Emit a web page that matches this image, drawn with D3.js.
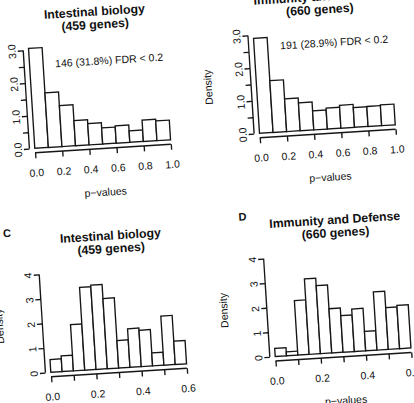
<!DOCTYPE html>
<html><head><meta charset="utf-8">
<script src="https://cdn.jsdelivr.net/npm/d3@7"></script>
<style>
html,body{margin:0;padding:0;background:#fff;}
svg{display:block;}
text{font-family:"Liberation Sans",Arial,Helvetica,sans-serif;fill:#111;}
</style>
</head><body>
<svg id="chart" width="414" height="403"></svg>
<script>
// ---------- data ----------
const titleA = ["Intestinal biology", "(459 genes)"];
const titleB = ["Immunity and Defense", "(660 genes)"];
const titleC = ["Intestinal biology", "(459 genes)"];
const titleD = ["Immunity and Defense", "(660 genes)"];
const panelLetters = ["", "", "C", "D"];

// densities (histograms of p-values)
const densA = [3.05, 1.67, 1.25, 0.77, 0.65, 0.49, 0.53, 0.35, 0.65, 0.60];
const densB = [2.90, 1.58, 1.00, 0.85, 0.58, 0.64, 0.70, 0.60, 0.61, 0.63];
const densC = [0.52, 0.64, 1.88, 3.37, 3.43, 2.86, 1.12, 1.57, 1.48, 0.53, 2.00, 0.95];
const densD = [0.33, 0.16, 2.22, 3.07, 2.77, 1.80, 1.49, 1.73, 0.79, 2.37, 1.70, 1.76];

const binWidthAB = 0.1;
const binWidthCD = 0.05;

const xTicksAB = [0, 0.2, 0.4, 0.6, 0.8, 1.0];
const xLabelsAB = [0, 0.2, 0.4, 0.6, 0.8, 1.0];
const xTicksCD = [0, 0.1, 0.2, 0.3, 0.4, 0.5, 0.6];
const xLabelsCD = [0, 0.2, 0.4, 0.6];
const yTicksAB = [0, 0.5, 1, 1.5, 2, 2.5, 3];
const yLabelsAB = [0, 1, 2, 3];
const yTicksCD = [0, 1, 2, 3, 4];
const yLabelsCD = [0, 1, 2, 3, 4];

const annotA = "146 (31.8%) FDR < 0.2";
const annotB = "191 (28.9%) FDR < 0.2";

const xAxisTitle = "p\u2212values";
const yAxisTitle = "Density";

// ---------- layout ----------
const W = 136, AXH = 98.4, GAPX = 5.4, GAPY = 4.5, TICK = 5.5;
const ANGLE = -3.6;
const panels = [
  {ox: 34.8, oy: 148.3, title: titleA, dens: densA, bw: binWidthAB, xmax: 1.0, ymax: 3,
   xt: xTicksAB, xl: xLabelsAB, yt: yTicksAB, yl: yLabelsAB, yfmt: d3.format(".1f"),
   annot: annotA, ax: 0.586, ay: 2.54, letter: panelLetters[0], lx: -35},
  {ox: 259.5, oy: 133.3, title: titleB, dens: densB, bw: binWidthAB, xmax: 1.0, ymax: 3,
   xt: xTicksAB, xl: xLabelsAB, yt: yTicksAB, yl: yLabelsAB, yfmt: d3.format(".1f"),
   annot: annotB, ax: 0.59, ay: 2.63, letter: panelLetters[1], lx: -24},
  {ox: 50.8, oy: 372.3, title: titleC, dens: densC, bw: binWidthCD, xmax: 0.6, ymax: 4,
   xt: xTicksCD, xl: xLabelsCD, yt: yTicksCD, yl: yLabelsCD, yfmt: d3.format("d"),
   annot: null, letter: panelLetters[2], lx: -35},
  {ox: 275.2, oy: 356.5, title: titleD, dens: densD, bw: binWidthCD, xmax: 0.6, ymax: 4,
   xt: xTicksCD, xl: xLabelsCD, yt: yTicksCD, yl: yLabelsCD, yfmt: d3.format("d"),
   annot: null, letter: panelLetters[3], lx: -24}
];

const svg = d3.select("#chart");
svg.append("rect").attr("width", 414).attr("height", 403).attr("fill", "#fff");

const STROKE = "#161616";
const SW = 1.35;
const FS = 10.5;
const FONT = '"Liberation Sans",Arial,Helvetica,sans-serif';

panels.forEach(p => {
  const g = svg.append("g")
    .attr("transform", `translate(${p.ox},${p.oy}) rotate(${ANGLE})`);
  const x = d3.scaleLinear().domain([0, p.xmax]).range([0, W]);
  const y = d3.scaleLinear().domain([0, p.ymax]).range([0, -AXH]);

  // bars
  g.selectAll("rect.bar").data(p.dens).join("rect")
    .attr("class", "bar")
    .attr("x", (d, i) => x(i * p.bw))
    .attr("width", (d, i) => x((i + 1) * p.bw) - x(i * p.bw))
    .attr("y", d => y(d))
    .attr("height", d => y(0) - y(d))
    .attr("fill", "#fff")
    .attr("stroke", STROKE)
    .attr("stroke-width", SW);

  // x axis
  const xa = g.append("g").attr("transform", `translate(0,${GAPY})`)
    .call(d3.axisBottom(x).tickValues(p.xt).tickSize(TICK).tickPadding(10.8)
      .tickFormat(d => p.xl.some(v => Math.abs(v - d) < 1e-9) ? d3.format(".1f")(d) : ""));
  xa.select(".domain").attr("d", `M${x(p.xt[0])},0H${x(p.xt[p.xt.length - 1])}`);
  xa.selectAll("path,line").attr("stroke", STROKE).attr("stroke-width", SW);
  xa.selectAll("text").attr("font-size", FS).attr("fill", "#111")
    .style("font-family", FONT);

  // y axis
  const ya = g.append("g").attr("transform", `translate(${-GAPX},0)`)
    .call(d3.axisLeft(y).tickValues(p.yt).tickSize(TICK)
      .tickFormat(d => p.yl.some(v => Math.abs(v - d) < 1e-9) ? p.yfmt(d) : ""));
  ya.select(".domain").attr("d", `M0,${y(p.yt[0])}V${y(p.yt[p.yt.length - 1])}`);
  ya.selectAll("path,line").attr("stroke", STROKE).attr("stroke-width", SW);
  ya.selectAll("text")
    .attr("x", null).attr("dy", null)
    .attr("text-anchor", "middle")
    .attr("transform", "translate(-7.6,0) rotate(-90)")
    .attr("font-size", FS).attr("fill", "#111")
    .style("font-family", FONT);

  // titles
  g.append("text").attr("x", W / 2).attr("y", -128.6).attr("text-anchor", "middle")
    .attr("font-size", 12.3).attr("font-weight", "bold").text(p.title[0]);
  g.append("text").attr("x", W / 2).attr("y", -115.6).attr("text-anchor", "middle")
    .attr("font-size", 12.3).attr("font-weight", "bold").text(p.title[1]);

  if (p.letter) {
    g.append("text").attr("x", p.lx).attr("y", -137.7).attr("text-anchor", "middle")
      .attr("font-size", 11).attr("font-weight", "bold").text(p.letter);
  }

  // axis titles
  g.append("text").attr("x", W / 2).attr("y", 51.8).attr("text-anchor", "middle")
    .attr("font-size", FS).text(xAxisTitle);
  g.append("text").attr("transform", `translate(-44.7,${-AXH / 2}) rotate(-90)`)
    .attr("text-anchor", "middle").attr("font-size", FS).text(yAxisTitle);

  // annotation
  if (p.annot) {
    g.append("text").attr("x", x(p.ax)).attr("y", y(p.ay) + 3.8)
      .attr("text-anchor", "middle").attr("font-size", FS).text(p.annot);
  }
});
</script>
</body></html>
